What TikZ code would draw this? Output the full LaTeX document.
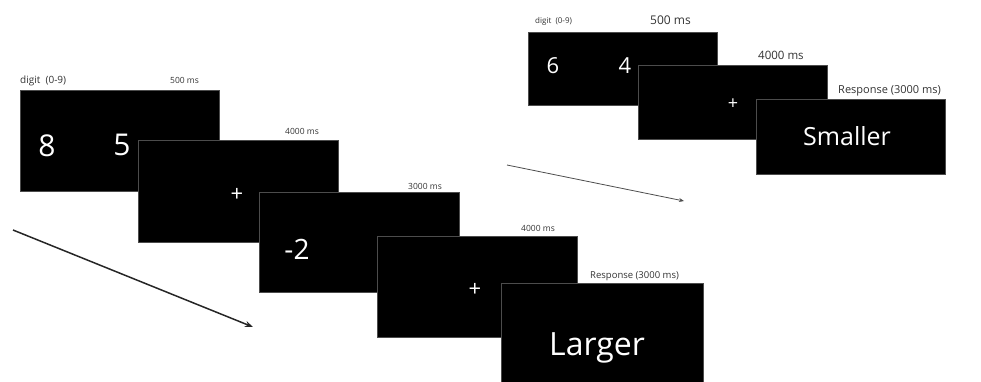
\documentclass[tikz,border=0pt]{standalone}
\usepackage{fontspec}
\setmainfont{Open Sans}
\usetikzlibrary{arrows.meta}
\tikzset{
  screen/.style={fill=black, draw=black!70, line width=0.4pt, inner sep=0pt, outer sep=0pt, anchor=north west},
  stim/.style={text=white, inner sep=0pt, anchor=center},
  lab/.style={text=black!80, inner sep=0pt, anchor=base west},
}
\begin{document}
\begin{tikzpicture}[x=1pt,y=-1pt]
\useasboundingbox (0,0) rectangle (981,382);
% left sequence
\node[screen, minimum width=199pt, minimum height=101pt] (a1) at (20,90) {};
\node[lab, font=\fontsize{10}{12}\selectfont] (a1l) at (20,84) {digit\ \ (0-9)};
\node[lab, font=\fontsize{8.5}{10}\selectfont] (a1t) at (170,84) {500 ms};
\node[stim, font=\fontsize{30}{34}\selectfont] (a1d1) at (47,146) {8};
\node[stim, font=\fontsize{30}{34}\selectfont] (a1d2) at (122,145) {5};

\node[screen, minimum width=200pt, minimum height=102pt] (a2) at (138,140) {};
\node[lab, font=\fontsize{8.5}{10}\selectfont] (a2t) at (285,135) {4000 ms};
\node[stim, font=\fontsize{22}{26}\selectfont] (a2p) at (237,195) {+};

\node[screen, minimum width=200pt, minimum height=100pt] (a3) at (259,192) {};
\node[lab, font=\fontsize{8.5}{10}\selectfont] (a3t) at (408,189) {3000 ms};
\node[stim, font=\fontsize{28}{32}\selectfont] (a3d) at (297,249) {-2};

\node[screen, minimum width=200pt, minimum height=101pt] (a4) at (377,236) {};
\node[lab, font=\fontsize{8.5}{10}\selectfont] (a4t) at (521,231) {4000 ms};
\node[stim, font=\fontsize{22}{26}\selectfont] (a4p) at (475,290) {+};

\node[screen, minimum width=202pt, minimum height=100pt] (a5) at (501,283) {};
\node[lab, font=\fontsize{9.5}{11}\selectfont] (a5t) at (590,278) {Response (3000 ms)};
\node[stim, font=\fontsize{32}{36}\selectfont] (a5w) at (597,348) {Larger};

% right sequence
\node[screen, minimum width=189pt, minimum height=73pt] (b1) at (528,32) {};
\node[lab, font=\fontsize{8}{10}\selectfont] (b1l) at (535,24) {digit\ \ (0-9)};
\node[lab, font=\fontsize{12}{14}\selectfont] (b1t) at (650,25) {500 ms};
\node[stim, font=\fontsize{22}{26}\selectfont] (b1d1) at (553,66) {6};
\node[stim, font=\fontsize{22}{26}\selectfont] (b1d2) at (625,66) {4};

\node[screen, minimum width=189pt, minimum height=74pt] (b2) at (638,65) {};
\node[lab, font=\fontsize{11.5}{14}\selectfont] (b2t) at (758,60) {4000 ms};
\node[stim, font=\fontsize{18}{22}\selectfont] (b2p) at (733,104) {+};

\node[screen, minimum width=189pt, minimum height=75pt] (b3) at (756,99) {};
\node[lab, font=\fontsize{11}{13}\selectfont] (b3t) at (838,94) {Response (3000 ms)};
\node[stim, font=\fontsize{25}{29}\selectfont] (b3w) at (847,136) {Smaller};

% arrows
\coordinate (p1) at (13,230);
\coordinate (p2) at (253,327);
\draw[black!85, line width=1.5pt, -{Stealth[length=8pt,width=6pt]}] (p1) -- (p2);
\coordinate (q1) at (507,165);
\coordinate (q2) at (684,201);
\draw[black!70, line width=0.8pt, -{Stealth[length=5pt,width=4pt]}] (q1) -- (q2);
\end{tikzpicture}
\end{document}
